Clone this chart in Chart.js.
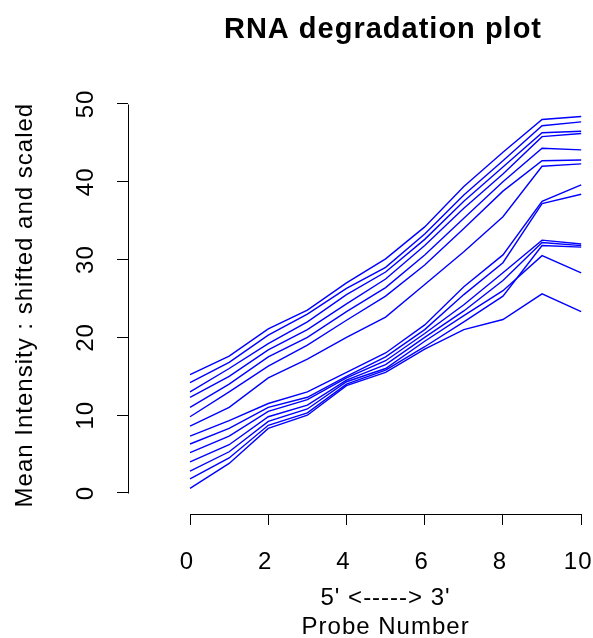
<!DOCTYPE html>
<html>
<head>
<meta charset="utf-8">
<script src="https://cdn.jsdelivr.net/npm/chart.js@4.4.1/dist/chart.umd.min.js"></script>
<style>
  html, body { margin: 0; padding: 0; background: #fff; }
  #wrap { width: 593px; height: 638px; }
</style>
</head>
<body>
<div id="wrap"><canvas id="c"></canvas></div>
<script>
  // probe positions 5' -> 3'
  const probeNumbers = [0, 1, 2, 3, 4, 5, 6, 7, 8, 9, 10];
  const xTicks = [0, 2, 4, 6, 8, 10];
  const yTicks = [0, 10, 20, 30, 40, 50];
  const xTitleLines = ["5' <-----> 3'", 'Probe Number'];

  // upper bundle (chips that start high)
  const chip01 = [15.2, 17.6, 21.1, 23.5, 27.0, 30.1, 34.2, 39.4, 43.8, 48.0, 48.4];
  const chip02 = [14.2, 16.8, 20.3, 23.0, 26.3, 29.0, 33.3, 38.3, 42.7, 47.2, 47.7];
  const chip03 = [13.0, 16.0, 19.2, 22.0, 25.5, 28.4, 32.6, 37.5, 41.9, 46.3, 46.5];
  const chip04 = [12.3, 15.0, 18.4, 21.0, 24.3, 27.5, 31.8, 36.6, 41.0, 45.8, 46.2];
  const chip05 = [11.0, 14.0, 17.5, 20.0, 23.3, 26.4, 30.6, 35.3, 40.0, 44.3, 44.1];
  const chip06 = [9.8, 13.0, 16.3, 19.0, 22.2, 25.3, 29.3, 34.0, 38.8, 42.7, 42.8];
  const chip07 = [8.6, 11.0, 14.8, 17.2, 20.0, 22.6, 26.8, 31.0, 35.5, 42.0, 42.3];
  // lower bundle
  const chip08 = [7.3, 9.3, 11.5, 13.0, 15.5, 18.0, 21.6, 26.5, 30.6, 37.5, 39.6];
  const chip09 = [6.3, 8.3, 11.0, 12.3, 15.0, 17.5, 21.0, 25.5, 29.6, 37.2, 38.4];
  const chip10 = [5.2, 7.3, 10.5, 12.0, 14.8, 17.0, 20.5, 24.2, 28.3, 32.5, 32.0];
  const chip11 = [4.0, 6.2, 9.8, 11.3, 14.5, 16.5, 20.0, 23.4, 27.3, 32.2, 31.8];
  const chip12 = [2.8, 5.3, 9.2, 10.8, 14.3, 16.0, 19.5, 22.8, 26.0, 30.5, 28.3];
  const chip13 = [1.8, 4.5, 8.7, 10.3, 14.0, 15.8, 18.8, 22.0, 25.3, 31.8, 31.6];
  const chip14 = [0.6, 3.8, 8.3, 10.0, 13.8, 15.5, 18.5, 21.0, 22.3, 25.6, 23.3];

  const chips = [chip01, chip02, chip03, chip04, chip05, chip06, chip07,
                 chip08, chip09, chip10, chip11, chip12, chip13, chip14];

  const FONT = '"Liberation Sans", Arial, sans-serif';

  // R-style axes: lines only span first..last tick; x title centred on the tick range
  const rAxes = {
    id: 'rAxes',
    beforeUpdate(chart) { chart.ctx.letterSpacing = '1px'; },
    beforeDraw(chart) { chart.ctx.letterSpacing = '1px'; },
    // centre the main title over the plot region rather than the whole canvas
    afterLayout(chart) {
      const t = chart.titleBlock;
      if (t) { t.left = 173; t.right = chart.width; }
    },
    afterDraw(chart) {
      const { ctx, chartArea, scales: { x, y } } = chart;
      ctx.save();
      ctx.strokeStyle = '#000';
      ctx.lineWidth = 1;
      ctx.beginPath();
      const by = Math.round(chartArea.bottom) + 0.5;
      ctx.moveTo(Math.round(x.getPixelForValue(xTicks[0])) + 0.5, by);
      ctx.lineTo(Math.round(x.getPixelForValue(xTicks[xTicks.length - 1])) + 0.5, by);
      const lx = Math.round(chartArea.left) + 0.5;
      ctx.moveTo(lx, Math.round(y.getPixelForValue(yTicks[0])) + 0.5);
      ctx.lineTo(lx, Math.round(y.getPixelForValue(yTicks[yTicks.length - 1])) + 0.5);
      ctx.stroke();

      const midX = x.getPixelForValue((xTicks[0] + xTicks[xTicks.length - 1]) / 2);
      ctx.fillStyle = '#000';
      ctx.font = '24px ' + FONT;
      ctx.textAlign = 'center';
      ctx.textBaseline = 'middle';
      xTitleLines.forEach((line, i) => ctx.fillText(line, midX, chartArea.bottom + 84 + i * 29));
      ctx.restore();
    },
  };

  const axisGrid = { drawOnChartArea: false, drawTicks: true, tickLength: 11, color: '#000', tickColor: '#000', lineWidth: 1 };

  new Chart(document.getElementById('c'), {
    type: 'line',
    data: {
      datasets: chips.map((vals, i) => ({
        label: 'chip ' + (i + 1),
        data: probeNumbers.map((p, j) => ({ x: p, y: vals[j] })),
        borderColor: 'rgb(0,0,255)',
        borderWidth: 1.4,
        pointRadius: 0,
        tension: 0,
        fill: false,
      })),
    },
    options: {
      responsive: true,
      maintainAspectRatio: false,
      animation: false,
      devicePixelRatio: 1,
      layout: { padding: { left: 0, right: 4, top: 0, bottom: 0 } },
      plugins: {
        legend: { display: false },
        tooltip: { enabled: false },
        title: {
          display: true,
          text: 'RNA degradation plot',
          color: '#000',
          font: { family: FONT, size: 29, weight: 'bold' },
          padding: { top: 13, bottom: 48.4 },
        },
      },
      scales: {
        x: {
          type: 'linear',
          min: -1.586,
          max: 10.2,
          afterBuildTicks: s => { s.ticks = xTicks.map(v => ({ value: v })); },
          afterFit: s => { s.height = 124; s.paddingLeft = 0; s.paddingRight = 0; },
          grid: axisGrid,
          border: { display: false },
          ticks: { color: '#000', font: { family: FONT, size: 24 }, padding: 23, labelOffset: -3, maxRotation: 0, autoSkip: false },
          title: { display: false },
        },
        y: {
          type: 'linear',
          min: -2.7,
          max: 51,
          afterBuildTicks: s => { s.ticks = yTicks.map(v => ({ value: v })); },
          afterFit: s => { s.width = 128; s.paddingTop = 0; s.paddingBottom = 0; },
          grid: axisGrid,
          border: { display: false },
          ticks: { color: '#000', font: { family: FONT, size: 24 }, padding: 16, minRotation: 90, maxRotation: 90, crossAlign: 'center', autoSkip: false },
          title: {
            display: true,
            text: 'Mean Intensity : shifted and scaled',
            color: '#000',
            font: { family: FONT, size: 24 },
            padding: { top: 11, bottom: 0 },
          },
        },
      },
    },
    plugins: [rAxes],
  });
</script>
</body>
</html>
